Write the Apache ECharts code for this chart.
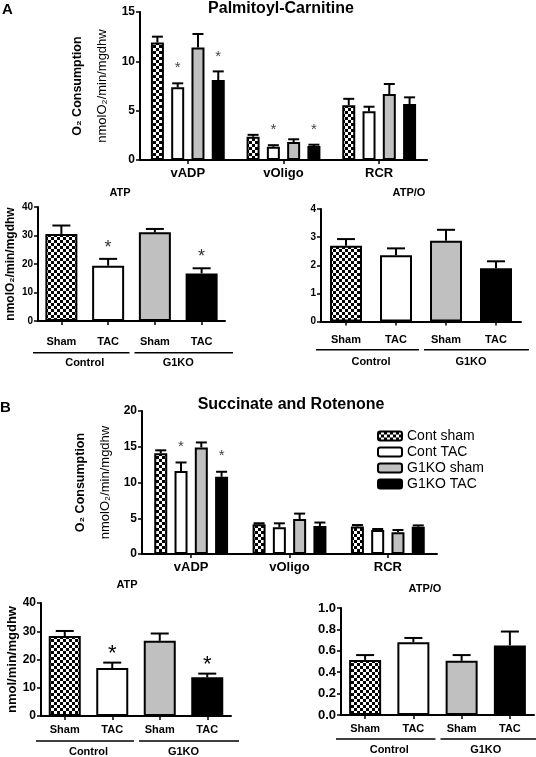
<!DOCTYPE html>
<html><head><meta charset="utf-8">
<script src="https://cdn.jsdelivr.net/npm/echarts@6/dist/echarts.min.js"></script>
<style>html,body{margin:0;padding:0;background:#fff}#c{width:536px;height:757px}</style>
</head><body><div id="c"></div>
<script>
// ---------- categories ----------
const groupNames = ['Cont sham', 'Cont TAC', 'G1KO sham', 'G1KO TAC'];
const measureCats = ['vADP', 'vOligo', 'RCR'];
const barCats = ['Sham', 'TAC', 'Sham', 'TAC'];
const genotypeCats = ['Control', 'G1KO'];

// ---------- Panel A : Palmitoyl-Carnitine (per group, over vADP / vOligo / RCR) ----------
const palmContSham      = [11.9, 2.36, 5.55];
const palmContShamUpper = [12.5, 2.55, 6.2];
const palmContTAC       = [7.37, 1.35, 4.93];
const palmContTACUpper  = [7.77, 1.5, 5.4];
const palmKOSham        = [11.4, 1.82, 6.69];
const palmKOShamUpper   = [12.77, 2.1, 7.7];
const palmKOTAC         = [8.1, 1.42, 5.67];
const palmKOTACUpper    = [8.98, 1.55, 6.35];
const palmSig = [[0,0,0],[1,1,0],[0,0,0],[1,1,0]];

// Panel A ATP and ATP/O (Cont sham, Cont TAC, G1KO sham, G1KO TAC)
const palmATP       = [30.5, 19.4, 31.1, 16.7];
const palmATPUpper  = [33.5, 21.8, 32.3, 18.5];
const palmATPSig    = [0, 1, 0, 1];
const palmATPO      = [2.69, 2.36, 2.87, 1.89];
const palmATPOUpper = [2.93, 2.6, 3.26, 2.14];
const palmATPOSig   = [0, 0, 0, 0];

// ---------- Panel B : Succinate and Rotenone ----------
const succContSham      = [14.08, 4.15, 3.85];
const succContShamUpper = [14.5, 4.3, 4.05];
const succContTAC       = [11.6, 3.73, 3.36];
const succContTACUpper  = [12.8, 4.29, 3.5];
const succKOSham        = [14.9, 4.9, 3.05];
const succKOShamUpper   = [15.6, 5.65, 3.36];
const succKOTAC         = [10.8, 3.9, 3.82];
const succKOTACUpper    = [11.5, 4.4, 4.0];
const succSig = [[0,0,0],[1,0,0],[0,0,0],[1,0,0]];

const succATP       = [28.3, 17.0, 26.6, 13.7];
const succATPUpper  = [30.1, 18.9, 29.2, 15.0];
const succATPSig    = [0, 1, 0, 1];
const succATPO      = [0.515, 0.68, 0.506, 0.65];
const succATPOUpper = [0.56, 0.72, 0.56, 0.78];
const succATPOSig   = [0, 0, 0, 0];

// ---------- tick settings ----------
const palmTop = {max: 15, interval: 5};
const atpAxis = {max: 40, interval: 10};
const palmATPOAxis = {max: 4, interval: 1};
const succTop = {max: 20, interval: 5};
const succATPOAxis = {max: 1, interval: 0.2};

// ---------- styles ----------
const F = "'Liberation Sans', Arial, sans-serif";
function checkerCanvas() {
  const c = document.createElement('canvas');
  c.width = 6; c.height = 6;
  const g = c.getContext('2d');
  g.fillStyle = '#fff'; g.fillRect(0, 0, 6, 6);
  g.fillStyle = '#000'; g.fillRect(0, 0, 3, 3); g.fillRect(3, 3, 3, 3);
  return c;
}
const fills = [{image: checkerCanvas(), repeat: 'repeat'}, '#ffffff', '#c0c0c0', '#000000'];

const TOP_W = 13, TOP_GAP = 0.56, BOT_W = 32;

function yAx(gi, t, fontSize, extra) {
  return Object.assign({
    gridIndex: gi, type: 'value', min: 0, max: t.max, interval: t.interval,
    axisLine: {show: true, lineStyle: {color: '#000', width: 2}},
    axisTick: {show: true, length: 4, lineStyle: {color: '#000', width: 1.5}},
    splitLine: {show: false},
    axisLabel: {color: '#000', fontWeight: 'bold', fontSize: fontSize, margin: 5, fontFamily: F}
  }, extra || {});
}
function xAx(gi, data, fontSize, margin) {
  return {
    gridIndex: gi, type: 'category', data: data,
    axisLine: {show: true, lineStyle: {color: '#000', width: 2}},
    axisTick: {show: true, alignWithLabel: true, length: 4, lineStyle: {color: '#000', width: 1.5}},
    axisLabel: {color: '#000', fontWeight: 'bold', fontSize: fontSize, margin: margin, fontFamily: F, interval: 0}
  };
}
function groupAx(gi, offset, margin, fontSize) {
  return {
    gridIndex: gi, type: 'category', data: genotypeCats, position: 'bottom', offset: offset,
    axisLine: {show: false}, axisTick: {show: false},
    axisLabel: {color: '#000', fontWeight: 'bold', fontSize: fontSize, margin: margin, fontFamily: F, interval: 0}
  };
}

function errRender(barW, gapRatio, nGroups, capW, starFont, starColor, starDist) {
  return function (params, api) {
    const cat = api.value(0), mean = api.value(1), upper = api.value(2), sig = api.value(3), g = api.value(4);
    const base = api.coord([cat, mean]);
    const top = api.coord([cat, upper]);
    const cx = base[0] + (g - (nGroups - 1) / 2) * barW * (1 + gapRatio);
    const children = [
      {type: 'line', shape: {x1: cx, y1: base[1], x2: cx, y2: top[1]}, style: {stroke: '#000', lineWidth: 2}},
      {type: 'line', shape: {x1: cx - capW / 2, y1: top[1], x2: cx + capW / 2, y2: top[1]}, style: {stroke: '#000', lineWidth: 2}}
    ];
    if (sig) {
      children.push({type: 'text', style: {text: '*', x: cx, y: top[1] - starDist, align: 'center', verticalAlign: 'middle',
        font: starFont, fill: starColor}});
    }
    return {type: 'group', children: children};
  };
}
function groupLineRender(lineOffset) {
  return function (params, api) {
    const i = api.value(0);
    const c = api.coord([i, 0]);
    const band = api.size([1, 0])[0];
    const y = c[1] + lineOffset;
    let x1 = c[0] - band / 2, x2 = c[0] + band / 2;
    if (i === 0) { x1 -= 5; x2 -= 2; } else { x1 += 3; x2 += 8; }
    return {type: 'line', shape: {x1: x1, y1: y, x2: x2, y2: y}, style: {stroke: '#000', lineWidth: 1.5}};
  };
}
function groupedErrData(means, uppers, sigs) {
  const out = [];
  means.forEach((arr, g) => arr.forEach((m, c) => out.push([c, m, uppers[g][c], sigs[g][c], g])));
  return out;
}
function singleErrData(means, uppers, sigs) {
  return means.map((m, c) => [c, m, uppers[c], sigs[c], 0]);
}
function topBars(xi, yi, means) {
  return groupNames.map((n, i) => ({
    type: 'bar', name: n, xAxisIndex: xi, yAxisIndex: yi, data: means[i],
    barWidth: TOP_W, barGap: (TOP_GAP * 100) + '%',
    itemStyle: {color: fills[i], borderColor: '#000', borderWidth: 2}, z: 2
  }));
}
function singleBars(name, xi, yi, means) {
  return {
    type: 'bar', name: name, xAxisIndex: xi, yAxisIndex: yi, barWidth: BOT_W,
    data: means.map((v, i) => ({value: v, itemStyle: {color: fills[i], borderColor: '#000', borderWidth: 2}})),
    z: 2
  };
}
function errSeries(xi, yi, data, render) {
  return {type: 'custom', xAxisIndex: xi, yAxisIndex: yi, data: data, renderItem: render, clip: false, z: 3, silent: true,
    encode: {x: 0, y: 1}};
}
function lineSeries(xi, yi, off) {
  return {type: 'custom', xAxisIndex: xi, yAxisIndex: yi, data: [[0, 0], [1, 0]], renderItem: groupLineRender(off),
    clip: false, z: 3, silent: true, encode: {x: 0, y: 1}};
}

const twoLineName = '{c|O₂ Consumption}\n{n|nmolO₂/min/mgdhw}';
const twoLineRich = {
  c: {fontFamily: F, fontWeight: 'bold', fontSize: 12.5, color: '#000', lineHeight: 25},
  n: {fontFamily: F, fontSize: 13, color: '#000', lineHeight: 25}
};

function titleText(text, x, y, size, align) {
  return {type: 'text', x: x, y: y, style: {text: text, align: align || 'center', verticalAlign: 'top',
    font: 'bold ' + size + 'px ' + F, fill: '#000'}};
}

const option = {
  backgroundColor: '#fff',
  animation: false,
  grid: [
    {left: 140, top: 12, width: 287, height: 148},
    {left: 38, top: 207, width: 187, height: 114},
    {left: 321, top: 209, width: 200, height: 112.5},
    {left: 142, top: 411, width: 295, height: 143},
    {left: 41, top: 603, width: 190, height: 114},
    {left: 341, top: 608, width: 193, height: 107}
  ],
  xAxis: [
    xAx(0, measureCats, 13, 7),
    xAx(1, barCats, 11, 15),
    xAx(2, barCats, 11, 13),
    xAx(3, measureCats, 13, 7),
    xAx(4, barCats, 11, 8),
    xAx(5, barCats, 11, 8),
    groupAx(1, 31, 5, 11),
    groupAx(2, 29, 6, 11),
    groupAx(4, 25, 5, 11),
    groupAx(5, 24, 5, 11)
  ],
  yAxis: [
    yAx(0, palmTop, 12, {name: twoLineName, nameLocation: 'middle', nameRotate: 90, nameGap: 25,
      nameTextStyle: {rich: twoLineRich}}),
    yAx(1, atpAxis, 10, {name: 'nmolO₂/min/mgdhw', nameLocation: 'middle', nameRotate: 90, nameGap: 21,
      nameTextStyle: {fontFamily: F, fontWeight: 'bold', fontSize: 12, color: '#000'}}),
    yAx(2, palmATPOAxis, 10),
    yAx(3, succTop, 12, {name: twoLineName, nameLocation: 'middle', nameRotate: 90, nameGap: 24,
      nameTextStyle: {rich: twoLineRich}}),
    yAx(4, atpAxis, 12, {name: 'nmol/min/mgdhw', nameLocation: 'middle', nameRotate: 90, nameGap: 19,
      nameTextStyle: {fontFamily: F, fontWeight: 'bold', fontSize: 13, color: '#000'}}),
    yAx(5, succATPOAxis, 13, {axisLabel: {color: '#000', fontWeight: 'bold', fontSize: 13, margin: 5, fontFamily: F,
      formatter: v => v.toFixed(1)}})
  ],
  legend: {
    data: groupNames, orient: 'vertical', left: 372, top: 423, itemWidth: 24, itemHeight: 9, itemGap: 0,
    icon: 'roundRect', selectedMode: false,
    textStyle: {fontFamily: F, fontSize: 14, color: '#000', lineHeight: 16}
  },
  graphic: [
    titleText('A', 2, 2, 15, 'left'),
    titleText('Palmitoyl-Carnitine', 281, 1, 16),
    titleText('ATP', 120, 187, 11),
    titleText('ATP/O', 409, 187, 11),
    titleText('B', 0, 400, 15, 'left'),
    titleText('Succinate and Rotenone', 291, 397, 16),
    titleText('ATP', 127, 579, 11),
    titleText('ATP/O', 425, 583, 11)
  ],
  series: [].concat(
    topBars(0, 0, [palmContSham, palmContTAC, palmKOSham, palmKOTAC]),
    [errSeries(0, 0, groupedErrData([palmContSham, palmContTAC, palmKOSham, palmKOTAC],
      [palmContShamUpper, palmContTACUpper, palmKOShamUpper, palmKOTACUpper], palmSig),
      errRender(TOP_W, TOP_GAP, 4, 11, '15px ' + F, '#444', 15))],
    [singleBars('ATP (A)', 1, 1, palmATP),
     errSeries(1, 1, singleErrData(palmATP, palmATPUpper, palmATPSig), errRender(BOT_W, 0, 1, 18, '18px ' + F, '#333', 11)),
     lineSeries(6, 1, 31.7)],
    [singleBars('ATP/O (A)', 2, 2, palmATPO),
     errSeries(2, 2, singleErrData(palmATPO, palmATPOUpper, palmATPOSig), errRender(BOT_W, 0, 1, 18, '18px ' + F, '#333', 11)),
     lineSeries(7, 2, 28.3)],
    topBars(3, 3, [succContSham, succContTAC, succKOSham, succKOTAC]),
    [errSeries(3, 3, groupedErrData([succContSham, succContTAC, succKOSham, succKOTAC],
      [succContShamUpper, succContTACUpper, succKOShamUpper, succKOTACUpper], succSig),
      errRender(TOP_W, TOP_GAP, 4, 11, '15px ' + F, '#444', 16))],
    [singleBars('ATP (B)', 4, 4, succATP),
     errSeries(4, 4, singleErrData(succATP, succATPUpper, succATPSig), errRender(BOT_W, 0, 1, 18, '22px ' + F, '#000', 9)),
     lineSeries(8, 4, 25)],
    [singleBars('ATP/O (B)', 5, 5, succATPO),
     errSeries(5, 5, singleErrData(succATPO, succATPOUpper, succATPOSig), errRender(BOT_W, 0, 1, 18, '18px ' + F, '#000', 11)),
     lineSeries(9, 5, 24)]
  )
};

const chart = echarts.init(document.getElementById('c'), null, {renderer: 'canvas'});
chart.setOption(option);
</script>
</body></html>
